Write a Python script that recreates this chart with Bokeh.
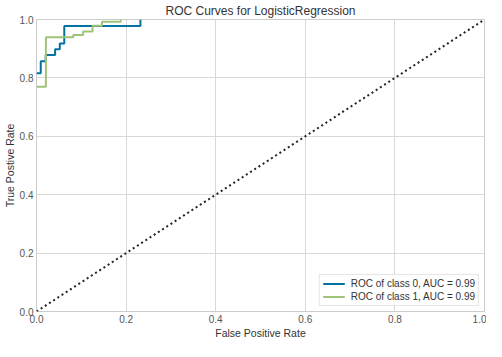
from bokeh.plotting import figure
from bokeh.models import Range1d, Legend, LegendItem, PrintfTickFormatter
from bokeh.embed import file_html
from bokeh.resources import INLINE

# ROC points
fpr_class0 = [0.0, 0.0095, 0.0095, 0.0205, 0.0205, 0.0415, 0.0415, 0.052, 0.052, 0.062, 0.062, 0.232, 0.232]
tpr_class0 = [0.816, 0.816, 0.857, 0.857, 0.878, 0.878, 0.898, 0.898, 0.918, 0.918, 0.978, 0.978, 1.0]

fpr_class1 = [0.0, 0.021, 0.021, 0.082, 0.082, 0.104, 0.104, 0.125, 0.125, 0.146, 0.146, 0.188, 0.188]
tpr_class1 = [0.77, 0.77, 0.939, 0.939, 0.947, 0.947, 0.959, 0.959, 0.979, 0.979, 0.992, 0.992, 1.0]

diag_x = [0.0, 1.0]
diag_y = [0.0, 1.0]

labels = ["ROC of class 0, AUC = 0.99", "ROC of class 1, AUC = 0.99"]
ticks = [0.0, 0.2, 0.4, 0.6, 0.8, 1.0]

FONT = "Liberation Sans"

p = figure(width=486, height=341, output_backend="svg", toolbar_location=None,
           x_range=Range1d(0, 1), y_range=Range1d(0, 1),
           title="ROC Curves for LogisticRegression",
           min_border_left=34, min_border_right=2, min_border_top=16, min_border_bottom=26)

p.title.align = "center"
p.title.text_font = FONT
p.title.text_font_size = "12px"
p.title.text_font_style = "normal"
p.title.text_color = "#333333"
p.title.standoff = 3
p.title.offset = 0

p.background_fill_color = "white"
p.border_fill_color = "white"
p.outline_line_color = "#cccccc"
p.outline_line_width = 1

for ax in (p.xaxis[0], p.yaxis[0]):
    ax.ticker = ticks
    ax.formatter = PrintfTickFormatter(format="%.1f")
    ax.major_tick_out = 0
    ax.major_tick_in = 0
    ax.minor_tick_out = 0
    ax.minor_tick_in = 0
    ax.axis_line_color = None
    ax.major_label_text_font = FONT
    ax.major_label_text_font_size = "10px"
    ax.major_label_text_color = "#555555"
    ax.major_label_standoff = 3
    ax.axis_label_text_font = FONT
    ax.axis_label_text_font_size = "10.5px"
    ax.axis_label_text_font_style = "normal"
    ax.axis_label_text_color = "#333333"
    ax.axis_label_standoff = 1

p.xaxis.axis_label = "False Positive Rate"
p.yaxis.axis_label = "True Postive Rate"

p.grid.grid_line_color = "#d9d9d9"
p.grid.grid_line_width = 1

r0 = p.line(fpr_class0, tpr_class0, line_color="#0272a2", line_width=2)
r1 = p.line(fpr_class1, tpr_class1, line_color="#9fc377", line_width=2)
p.line(diag_x, diag_y, line_color="#222222", line_width=2, line_dash="2 3")

legend = Legend(items=[LegendItem(label=labels[0], renderers=[r0]),
                       LegendItem(label=labels[1], renderers=[r1])],
                location="bottom_right", margin=5, padding=3, spacing=2,
                glyph_width=22, glyph_height=11, label_height=11, label_standoff=6,
                label_text_font=FONT, label_text_font_size="10px", label_text_color="#333333",
                border_line_color="#cccccc", border_line_width=1,
                background_fill_color="white", background_fill_alpha=0.8)
p.add_layout(legend)

open("out.html", "w").write(file_html(p, INLINE))
